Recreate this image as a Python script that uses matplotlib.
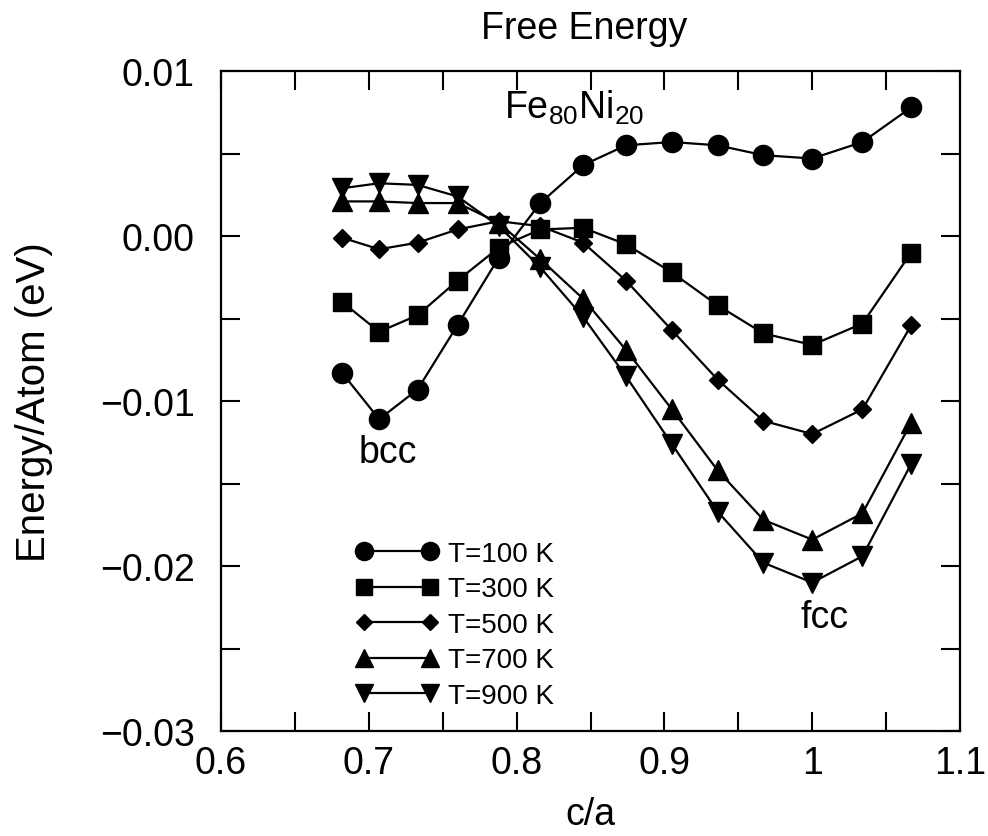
import numpy as np
import matplotlib.pyplot as plt
from matplotlib.ticker import MultipleLocator, FuncFormatter

plt.rcParams['font.family'] = ['Liberation Sans', 'DejaVu Sans']
plt.rcParams['mathtext.default'] = 'regular'

# c/a values along the Bain path
ca = [0.682, 0.707, 0.733, 0.760, 0.788, 0.816, 0.845,
      0.874, 0.905, 0.936, 0.967, 1.000, 1.034, 1.067]

# free energy per atom (eV) at each temperature
e_100 = [-0.0083, -0.0111, -0.0093, -0.0054, -0.0013, 0.0020, 0.0043,
         0.0055, 0.0057, 0.0055, 0.0049, 0.0047, 0.0057, 0.0078]
e_300 = [-0.0040, -0.0058, -0.0048, -0.0027, -0.0007, 0.0004, 0.0005,
         -0.0005, -0.0022, -0.0042, -0.0059, -0.0066, -0.0053, -0.0010]
e_500 = [-0.0001, -0.0008, -0.0004, 0.0004, 0.0009, 0.0006, -0.0004,
         -0.0027, -0.0057, -0.0087, -0.0112, -0.0120, -0.0105, -0.0054]
e_700 = [0.0021, 0.0021, 0.0020, 0.0020, 0.0008, -0.0014, -0.0038,
         -0.0069, -0.0105, -0.0142, -0.0172, -0.0184, -0.0168, -0.0113]
e_900 = [0.0029, 0.0032, 0.0031, 0.0024, 0.0006, -0.0019, -0.0049,
         -0.0085, -0.0126, -0.0167, -0.0198, -0.0210, -0.0194, -0.0138]

labels = ['T=100 K', 'T=300 K', 'T=500 K', 'T=700 K', 'T=900 K']
series = [e_100, e_300, e_500, e_700, e_900]
markers = ['o', 's', 'D', '^', 'v']
msizes = [14.5, 13, 9.5, 14, 14]

fig = plt.figure(figsize=(9.88, 8.37), dpi=100)
ax = fig.add_axes([0.2237, 0.1254, 0.748, 0.7885])

for e, lab, m, ms in zip(series, labels, markers, msizes):
    ax.plot(ca, e, color='black', lw=1.6, marker=m, ms=ms, label=lab)

ax.set_xlim(0.6, 1.1)
ax.set_ylim(-0.03, 0.01)
ax.xaxis.set_major_locator(MultipleLocator(0.1))
ax.xaxis.set_minor_locator(MultipleLocator(0.05))
ax.yaxis.set_major_locator(MultipleLocator(0.01))
ax.yaxis.set_minor_locator(MultipleLocator(0.005))
ax.xaxis.set_major_formatter(FuncFormatter(lambda v, p: f"{v:g}"))
ax.yaxis.set_major_formatter(FuncFormatter(
    lambda v, p: f"{0.0 if abs(v) < 1e-9 else v:.2f}".replace('-', '\u2212')))

ax.tick_params(which='both', direction='in', top=True, right=True,
               length=14, width=1.5, labelsize=27)
ax.tick_params(axis='x', pad=10)
ax.tick_params(axis='y', pad=19)
for s in ax.spines.values():
    s.set_linewidth(1.6)

ax.set_title('Free Energy', fontsize=27, pad=24, x=0.492)
ax.set_xlabel('c/a', fontsize=27, labelpad=11)
ax.set_ylabel('Energy/Atom (eV)', fontsize=29, labelpad=34)

ax.text(0.7916, 0.00715, 'Fe$_{80}$Ni$_{20}$', fontsize=27)
ax.text(0.713, -0.0137, 'bcc', fontsize=27, ha='center')
ax.text(1.008, -0.0237, 'fcc', fontsize=27, ha='center')

ax.legend(loc='upper left', bbox_to_anchor=(0.163, 0.309), frameon=False,
          fontsize=20, numpoints=2, handlelength=3.0, handletextpad=0.32,
          labelspacing=0.34, markerscale=0.9, borderpad=0)

plt.savefig('out.png', dpi=100)
